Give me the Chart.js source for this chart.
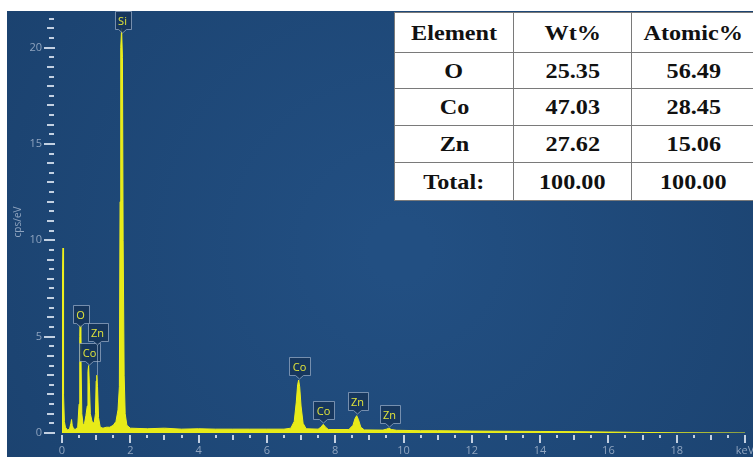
<!DOCTYPE html>
<html>
<head>
<meta charset="utf-8">
<script src="https://cdn.jsdelivr.net/npm/chart.js@4.4.1/dist/chart.umd.min.js"></script>
<style>
  html, body { margin: 0; padding: 0; background: #fff; overflow: hidden; }
  #wrap { position: relative; width: 753px; height: 457px; overflow: hidden; }
  #spectrum { position: absolute; left: 0; top: 0; }
  #quant {
    position: absolute; left: 394px; top: 12px;
    border-collapse: collapse; background: #fff; table-layout: fixed;
    font-family: "Liberation Serif", "Times New Roman", serif;
    font-weight: bold; font-size: 22px; color: #111;
  }
  #quant td { border: 1px solid #7a7a7a; text-align: center; padding: 0; overflow: hidden; }
  #quant td span { display: inline-block; transform: scaleX(1.1); }
</style>
</head>
<body>
<div id="wrap">
  <canvas id="spectrum" width="753" height="457"></canvas>
  <table id="quant"></table>
</div>
<script>
// EDS spectrum, energy in keV vs counts in cps/eV
const energies = [
  0.00, 0.01, 0.02, 0.03, 0.04, 0.05, 0.07, 0.10, 0.16, 0.22, 0.26, 0.28, 0.30, 0.34,
  0.40, 0.46, 0.50, 0.52, 0.53, 0.55, 0.58, 0.62, 0.66, 0.70, 0.74, 0.76, 0.78, 0.80,
  0.83, 0.88, 0.94, 0.98, 1.00, 1.02, 1.04, 1.07, 1.12, 1.20, 1.30, 1.40, 1.50, 1.58,
  1.64, 1.68, 1.70, 1.72, 1.745, 1.77, 1.79, 1.82, 1.85, 1.90, 2.00, 2.50, 3.00, 3.50,
  4.00, 4.50, 5.00, 5.50, 6.00, 6.50, 6.70, 6.80, 6.86, 6.90, 6.93, 6.96, 7.00, 7.06,
  7.15, 7.50, 7.58, 7.65, 7.72, 7.80, 8.40, 8.52, 8.58, 8.63, 8.68, 8.75, 8.85, 9.40,
  9.50, 9.57, 9.65, 9.80, 10.5, 11.0, 12.0, 13.0, 14.0, 15.0, 16.0, 17.0, 18.0, 20.0
];
const counts = [
  0.00, 0.60, 8.40, 9.60, 8.40, 2.00, 0.60, 0.30, 0.15, 0.20, 0.50, 0.70, 0.40, 0.20,
  0.20, 0.30, 1.50, 5.00, 5.60, 4.60, 1.00, 0.40, 0.50, 0.90, 1.40, 3.20, 3.50, 2.60,
  1.00, 0.60, 0.50, 1.00, 2.70, 3.00, 2.40, 0.80, 0.30, 0.25, 0.30, 0.30, 0.40, 0.60,
  1.20, 2.40, 12.0, 20.0, 21.0, 19.5, 10.0, 3.00, 1.00, 0.40, 0.25, 0.22, 0.25, 0.20,
  0.22, 0.20, 0.20, 0.20, 0.20, 0.20, 0.25, 0.60, 1.60, 2.50, 2.75, 2.40, 1.40, 0.50,
  0.22, 0.20, 0.30, 0.45, 0.30, 0.18, 0.18, 0.40, 0.75, 0.90, 0.70, 0.30, 0.16, 0.15,
  0.20, 0.25, 0.18, 0.14, 0.12, 0.12, 0.10, 0.09, 0.08, 0.07, 0.05, 0.03, 0.01, 0.00
];

// peak identification tags: element, line energy, height where the tag points
const tagNames    = ['O',  'Co', 'Zn', 'Si',  'Co', 'Co', 'Zn', 'Zn'];
const tagEnergies = [0.53, 0.78, 1.02, 1.745, 6.93, 7.65, 8.63, 9.57];
const tagAnchors  = [5.45, 3.50, 4.50, 20.7,  2.75, 0.47, 0.93, 0.26];

// quantification table
const tableHeader = ['Element', 'Wt%', 'Atomic%'];
const elements    = ['O', 'Co', 'Zn'];
const wtPct       = ['25.35', '47.03', '27.62'];
const atomicPct   = ['56.49', '28.45', '15.06'];
const totalRow    = ['Total:', '100.00', '100.00'];

const colWidths  = [119, 118, 124];
const rowHeights = [40, 36, 37, 37, 38];

function buildTable() {
  const table = document.getElementById('quant');
  const rows = [tableHeader];
  elements.forEach((el, i) => rows.push([el, wtPct[i], atomicPct[i]]));
  rows.push(totalRow);
  let html = '<colgroup>' + colWidths.map(w => `<col style="width:${w}px">`).join('') + '</colgroup>';
  rows.forEach((r, i) => {
    html += `<tr style="height:${rowHeights[i]}px">` + r.map(c => `<td><span>${c}</span></td>`).join('') + '</tr>';
  });
  table.innerHTML = html;
  table.style.width = colWidths.reduce((a, b) => a + b, 0) + 'px';
}

// blue panel behind the spectrum
const backdrop = {
  id: 'backdrop',
  beforeDraw(chart) {
    const ctx = chart.ctx;
    const g = ctx.createRadialGradient(400, 250, 30, 400, 250, 470);
    g.addColorStop(0, '#224f82');
    g.addColorStop(1, '#1b426f');
    ctx.save();
    ctx.fillStyle = g;
    ctx.fillRect(7, 11, 746, 446);
    ctx.restore();
  }
};

// minor / major tick dashes on both axes
const tickMarks = {
  id: 'tickMarks',
  afterDraw(chart) {
    const { ctx, scales: { x, y } } = chart;
    ctx.save();
    ctx.fillStyle = 'rgba(214,224,238,0.9)';
    for (let i = 0; i <= 40; i++) {
      const px = Math.round(x.getPixelForValue(i / 2));
      const len = i % 4 === 0 ? 8 : (i % 2 === 0 ? 5 : 3);
      ctx.fillRect(px - 1, y.bottom + 2, 2, len);
    }
    for (let i = 0; i <= 43; i++) {
      const py = Math.round(y.getPixelForValue(i / 2));
      if (i % 10 === 0) ctx.fillRect(44, py - 1, 11, 2);
      else if (i % 2 === 0) ctx.fillRect(47, py - 1, 7, 2);
      else ctx.fillRect(49, py - 1, 5, 2);
    }
    ctx.restore();
  }
};

// element tags above the peaks
const peakTags = {
  id: 'peakTags',
  afterDatasetsDraw(chart) {
    const { ctx, scales: { x, y } } = chart;
    ctx.save();
    ctx.font = '11px "Open Sans", "DejaVu Sans", sans-serif';
    ctx.textAlign = 'center';
    ctx.textBaseline = 'middle';
    tagNames.forEach((name, i) => {
      const cx = Math.round(x.getPixelForValue(tagEnergies[i])) + 0.5;
      const tip = Math.round(y.getPixelForValue(tagAnchors[i])) - 1;
      const w = Math.round(ctx.measureText(name).width) + 7;
      const h = 18;
      const bottom = tip - 4 + 0.5;
      const top = bottom - h;
      const left = Math.round(cx - w / 2) + 0.5;
      const right = left + w;

      // peak top from the spectrum itself
      let peak = 0;
      energies.forEach((e, k) => {
        if (Math.abs(e - tagEnergies[i]) < 0.03) peak = Math.max(peak, counts[k]);
      });
      const peakPx = y.getPixelForValue(peak);
      if (peakPx > tip + 2) {
        ctx.strokeStyle = 'rgba(170,188,210,0.6)';
        ctx.lineWidth = 1;
        ctx.beginPath();
        ctx.moveTo(cx, tip);
        ctx.lineTo(cx, peakPx);
        ctx.stroke();
      }

      ctx.beginPath();
      ctx.moveTo(left, top);
      ctx.lineTo(right, top);
      ctx.lineTo(right, bottom);
      ctx.lineTo(cx + 4, bottom);
      ctx.lineTo(cx, tip);
      ctx.lineTo(cx - 4, bottom);
      ctx.lineTo(left, bottom);
      ctx.closePath();
      ctx.fillStyle = 'rgba(22,52,90,0.88)';
      ctx.fill();
      ctx.strokeStyle = 'rgba(150,170,196,0.75)';
      ctx.lineWidth = 1;
      ctx.stroke();

      ctx.fillStyle = '#e2e53a';
      ctx.fillText(name, cx, top + h / 2 + 1);
    });
    ctx.restore();
  }
};

const axisColor = '#8fa4bf';
const axisFont = { family: '"Open Sans", "DejaVu Sans", sans-serif', size: 11 };

function renderSpectrum() {
  const ctx = document.getElementById('spectrum');
  new Chart(ctx.getContext('2d'), {
    type: 'line',
    data: {
      datasets: [{
        data: energies.map((e, i) => ({ x: e, y: counts[i] })),
        borderColor: '#eef01c',
        backgroundColor: '#e8eb18',
        borderWidth: 1,
        fill: 'origin',
        pointRadius: 0,
        tension: 0
      }]
    },
    options: {
      responsive: false,
      animation: false,
      events: [],
      layout: { padding: { left: 0, top: 11, right: 8, bottom: 0 } },
      plugins: { legend: { display: false }, tooltip: { enabled: false } },
      scales: {
        x: {
          type: 'linear', min: 0, max: 20,
          border: { display: false },
          grid: { display: false, drawTicks: false },
          ticks: {
            stepSize: 2, autoSkip: false, maxRotation: 0, includeBounds: false,
            color: axisColor, font: axisFont, padding: 11,
            callback: v => v === 20 ? 'keV' : v
          },
          afterFit(s) { s.height = 24; s.paddingLeft = 0; s.paddingRight = 0; }
        },
        y: {
          min: 0, max: 21.9,
          border: { display: false },
          grid: { display: false, drawTicks: false },
          ticks: {
            stepSize: 5, includeBounds: false,
            color: axisColor, font: axisFont, padding: 20,
            callback: v => v % 5 === 0 ? v : ''
          },
          title: {
            display: true, text: 'cps/eV', color: axisColor,
            font: { family: axisFont.family, size: 10 },
            padding: { top: 12, bottom: 0 }
          },
          afterFit(s) { s.width = 62; s.paddingTop = 0; s.paddingBottom = 0; }
        }
      }
    },
    plugins: [backdrop, tickMarks, peakTags]
  });
}

buildTable();
renderSpectrum();
</script>
</body>
</html>
